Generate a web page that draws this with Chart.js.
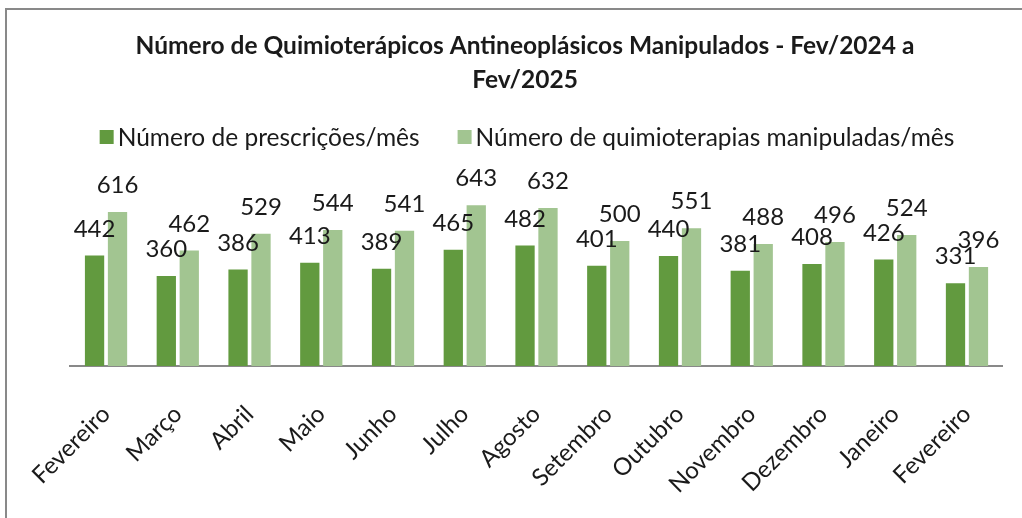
<!DOCTYPE html>
<html>
<head>
<meta charset="utf-8">
<script src="https://cdn.jsdelivr.net/npm/chart.js@4/dist/chart.umd.min.js"></script>
<style>
  html, body { margin: 0; padding: 0; background: #fff; }
  #wrap { position: relative; width: 1022px; height: 518px; overflow: hidden; }
  #frame { position: absolute; left: 5px; top: 8px; width: 1040px; height: 540px;
           border-left: 2px solid #898989; border-top: 2px solid #898989; box-sizing: border-box; }
  canvas { position: absolute; left: 0; top: 0; }
</style>
</head>
<body>
<div id="wrap">
  <div id="frame"></div>
  <canvas id="c" width="1022" height="518"></canvas>
</div>
<script>
const categories = ["Fevereiro", "Março", "Abril", "Maio", "Junho", "Julho", "Agosto",
                    "Setembro", "Outubro", "Novembro", "Dezembro", "Janeiro", "Fevereiro"];
const prescricoes = [442, 360, 386, 413, 389, 465, 482, 401, 440, 381, 408, 426, 331];
const quimioterapias = [616, 462, 529, 544, 541, 643, 632, 500, 551, 488, 496, 524, 396];
const seriesNames = ["Número de prescrições/mês", "Número de quimioterapias manipuladas/mês"];
const titleLines = ["Número de Quimioterápicos Antineoplásicos Manipulados - Fev/2024 a", "Fev/2025"];
const seriesColors = ["#629a3f", "#a2c591"];

const FONT = "Lato, 'Open Sans', sans-serif";
const TEXT = "#1a1a1a";

const valueLabels = {
  id: 'valueLabels',
  afterDatasetsDraw(chart) {
    const ctx = chart.ctx;
    ctx.save();
    ctx.font = "24px " + FONT;
    ctx.fillStyle = TEXT;
    ctx.textAlign = "center";
    ctx.textBaseline = "alphabetic";
    chart.data.datasets.forEach((ds, i) => {
      const meta = chart.getDatasetMeta(i);
      meta.data.forEach((bar, j) => {
        ctx.fillText(String(ds.data[j]), bar.x, bar.y - 19);
      });
    });
    ctx.restore();
  }
};

// Legend drawn with small box-to-text gap like the original
const compactLegend = {
  id: 'compactLegend',
  afterDraw(chart) {
    const ctx = chart.ctx;
    ctx.save();
    ctx.font = "24.5px " + FONT;
    const box = 14, gap = 4, spacing = 38, cy = 137;
    const items = chart.data.datasets.map((ds, i) => ({
      text: ds.label, color: ds.backgroundColor, w: ctx.measureText(ds.label).width
    }));
    let total = 0;
    items.forEach((it, i) => { total += box + gap + it.w + (i ? spacing : 0); });
    let x = 527 - total / 2;
    ctx.textBaseline = "middle";
    ctx.textAlign = "left";
    items.forEach((it, i) => {
      if (i) x += spacing;
      ctx.fillStyle = it.color;
      ctx.fillRect(x, cy - box / 2, box, box);
      x += box + gap;
      ctx.fillStyle = TEXT;
      ctx.fillText(it.text, x, cy + 1);
      x += it.w;
    });
    ctx.restore();
  }
};

new Chart(document.getElementById('c'), {
  type: 'bar',
  data: {
    labels: categories,
    datasets: [
      { label: seriesNames[0], data: prescricoes, backgroundColor: seriesColors[0], borderWidth: 0 },
      { label: seriesNames[1], data: quimioterapias, backgroundColor: seriesColors[1], borderWidth: 0 }
    ]
  },
  options: {
    responsive: false,
    animation: false,
    events: [],
    layout: { padding: { left: 45, right: 17, top: 30, bottom: 0 } },
    datasets: { bar: { categoryPercentage: 0.64, barPercentage: 0.84 } },
    plugins: {
      title: {
        display: true,
        text: titleLines,
        color: TEXT,
        font: { family: FONT, size: 24.5, weight: 'bold', lineHeight: 1.35 },
        padding: { top: 0, bottom: 74 }
      },
      legend: { display: false },
      tooltip: { enabled: false }
    },
    scales: {
      x: {
        grid: { display: false, drawTicks: false },
        border: { display: true, color: "#898989", width: 2 },
        ticks: {
          color: TEXT,
          font: { family: FONT, size: 24 },
          minRotation: 45, maxRotation: 45,
          padding: 34,
          autoSkip: false
        },
        afterFit(scale) { scale.height = 152; }
      },
      y: {
        display: true,
        min: 0, max: 784,
        grid: { display: false, drawTicks: false },
        border: { display: false },
        ticks: { display: false },
        afterFit(scale) { scale.width = 25; }
      }
    }
  },
  plugins: [valueLabels, compactLegend]
});
</script>
</body>
</html>
